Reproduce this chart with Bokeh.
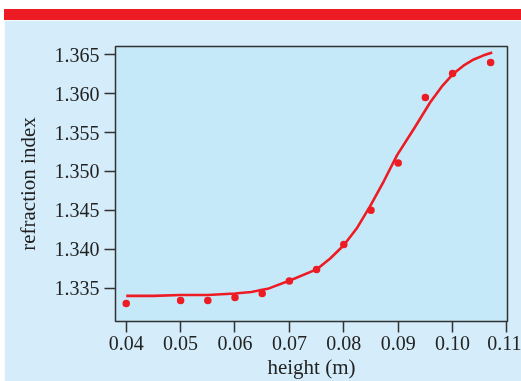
from bokeh.plotting import figure
from bokeh.models import FixedTicker, NumeralTickFormatter, Range1d, Div
from bokeh.layouts import column
from bokeh.embed import file_html
from bokeh.resources import INLINE

# measured points
height_m = [0.040, 0.050, 0.055, 0.060, 0.065, 0.070, 0.075, 0.080, 0.085, 0.090, 0.095, 0.100, 0.107]
refr_index = [1.3330, 1.3334, 1.3334, 1.3338, 1.3343, 1.3359, 1.3374, 1.3406, 1.3450, 1.3511, 1.3595, 1.3626, 1.3640]

# fitted curve
fit_x = [0.0400, 0.0450, 0.0500, 0.0550, 0.0600, 0.0630, 0.0660, 0.0702, 0.0750, 0.0775,
         0.0800, 0.0825, 0.0849, 0.0874, 0.0898, 0.0929, 0.0959, 0.0980, 0.1002, 0.1020,
         0.1039, 0.1056, 0.1073]
fit_y = [1.3340, 1.3340, 1.3341, 1.3341, 1.3343, 1.3345, 1.3349, 1.3360, 1.3374, 1.3388,
         1.3405, 1.3428, 1.3456, 1.3488, 1.3521, 1.3555, 1.3589, 1.3609, 1.3626, 1.3636,
         1.3644, 1.3649, 1.3653]

x_ticks = [0.04, 0.05, 0.06, 0.07, 0.08, 0.09, 0.10, 0.11]
y_ticks = [1.335, 1.340, 1.345, 1.350, 1.355, 1.360, 1.365]

RED = "#ED1C24"
OUTER = "#D5EDFA"
INNER = "#C6E9F9"
DARK = "#333333"

W = 517

band = Div(text="", width=W, height=11, margin=0, styles={"background-color": RED})

p = figure(width=W, height=361, output_backend="svg", toolbar_location=None,
           x_range=Range1d(0.03803, 0.1101), y_range=Range1d(1.3307, 1.36607),
           min_border_left=111, min_border_right=14, min_border_top=26, min_border_bottom=60,
           margin=0)

p.background_fill_color = INNER
p.border_fill_color = OUTER
p.outline_line_color = DARK
p.outline_line_width = 1.5
p.grid.visible = False

p.line(fit_x, fit_y, line_color=RED, line_width=2.6, line_join="round")
p.scatter(height_m, refr_index, size=7.5, fill_color=RED, line_color=None)

for ax in (p.xaxis, p.yaxis):
    ax.axis_line_color = None
    ax.major_tick_line_color = DARK
    ax.major_tick_line_width = 1.5
    ax.major_tick_out = 11
    ax.major_tick_in = 0
    ax.minor_tick_line_color = None
    ax.major_label_text_font = "Liberation Serif"
    ax.major_label_text_font_size = "20px"
    ax.major_label_text_color = "#222222"
    ax.axis_label_text_font = "Liberation Serif"
    ax.axis_label_text_font_size = "21px"
    ax.axis_label_text_font_style = "normal"
    ax.axis_label_text_color = "#222222"

p.xaxis.ticker = FixedTicker(ticks=x_ticks)
p.xaxis.formatter = NumeralTickFormatter(format="0.00")
p.xaxis.axis_label = "height (m)"
p.xaxis.major_label_standoff = 3
p.xaxis.axis_label_standoff = 2

p.yaxis.ticker = FixedTicker(ticks=y_ticks)
p.yaxis.formatter = NumeralTickFormatter(format="0.000")
p.yaxis.axis_label = "refraction index"
p.yaxis.major_label_standoff = 5
p.yaxis.axis_label_standoff = 12

layout = column(band, p, spacing=0, margin=0,
                styles={"position": "fixed", "left": "4px", "top": "9px"})

open("out.html", "w").write(file_html(layout, INLINE))
